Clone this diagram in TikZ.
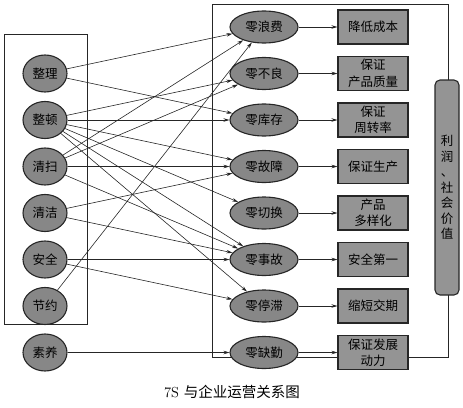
\documentclass[tikz,border=0pt]{standalone}
\usepackage{fontspec}
\newfontfamily\cjk{Noto Sans CJK SC}
\usetikzlibrary{arrows.meta,shapes.geometric}
\begin{document}
\begin{tikzpicture}[x=1pt,y=-1pt,
  lnode/.style={ellipse, draw=black!85, line width=1.1pt, fill=black!47, minimum width=44pt, minimum height=37pt, inner sep=0pt, font=\cjk\fontsize{12.5}{14}\selectfont},
  mnode/.style={ellipse, draw=black!85, line width=1.1pt, fill=black!47, minimum width=68pt, minimum height=32pt, inner sep=0pt, font=\cjk\fontsize{12.5}{14}\selectfont},
  rbox/.style={rectangle, draw=black!85, line width=1.1pt, fill=black!42, minimum width=70pt, minimum height=34pt, inner sep=0pt, align=center, font=\cjk\fontsize{12.5}{16.5}\selectfont},
  tallbox/.style={rectangle, rounded corners=5pt, draw=black!85, line width=1.1pt, fill=black!42, minimum width=24pt, minimum height=215pt, inner sep=0pt, align=center, font=\cjk\fontsize{12.5}{15.5}\selectfont},
  arr/.style={draw=black!85, line width=0.6pt, -{Stealth[length=6pt,width=3.5pt]}},
  framed/.style={draw=black!85, line width=1pt}
]
\useasboundingbox (0,0) rectangle (463,407);
% frames
\draw[framed] (212,4) rectangle (448,357);
\draw[framed] (4,34) rectangle (87,324);
% left nodes
\node[lnode] (l1) at (45,73.5) {整理};
\node[lnode] (l2) at (45,120) {整顿};
\node[lnode] (l3) at (45,166.5) {清扫};
\node[lnode] (l4) at (45,213) {清洁};
\node[lnode] (l5) at (45,259.5) {安全};
\node[lnode] (l6) at (45,306) {节约};
\node[lnode] (l7) at (45,352.5) {素养};
% middle nodes
\node[mnode] (m1) at (264,27) {零浪费};
\node[mnode] (m2) at (264,73.5) {零不良};
\node[mnode] (m3) at (264,120) {零库存};
\node[mnode] (m4) at (264,166.5) {零故障};
\node[mnode] (m5) at (264,213) {零切换};
\node[mnode] (m6) at (264,259.5) {零事故};
\node[mnode] (m7) at (264,306) {零停滞};
\node[mnode] (m8) at (264,352.5) {零缺勤};
% right boxes
\node[rbox] (r1) at (373,27) {降低成本};
\node[rbox] (r2) at (373,73.5) {保证\\产品质量};
\node[rbox] (r3) at (373,120) {保证\\周转率};
\node[rbox] (r4) at (373,166.5) {保证生产};
\node[rbox] (r5) at (373,213) {产品\\多样化};
\node[rbox] (r6) at (373,259.5) {安全第一};
\node[rbox] (r7) at (373,306) {缩短交期};
\node[rbox] (r8) at (373,352.5) {保证发展\\动力};
% tall box
\node[tallbox] (t) at (447,187.5) {利\\润\\、\\社\\会\\价\\值};
% connectors left -> middle
\draw[arr] (l1) -- (m1);
\draw[arr] (l1) -- (m3);
\draw[arr] (l2) -- (m2);
\draw[arr] (l2) -- (m3);
\draw[arr] (l2) -- (m4);
\draw[arr] (l2) -- (m5);
\draw[arr] (l2) -- (m6);
\draw[arr] (l2) -- (m7);
\draw[arr] (l3) -- (m1);
\draw[arr] (l3) -- (m2);
\draw[arr] (l3) -- (m4);
\draw[arr] (l3) -- (m6);
\draw[arr] (l4) -- (m4);
\draw[arr] (l4) -- (m6);
\draw[arr] (l5) -- (m6);
\draw[arr] (l5) -- (m7);
\draw[arr] (l6) -- (m1);
\draw[arr] (l7) -- (m8);
% middle -> right
\foreach \i in {1,...,8} {\draw[arr] (m\i) -- (r\i);}
% caption
\node (cap) at (232,392) {\fontsize{14.5}{16}\selectfont 7S\ \cjk 与企业运营关系图};
\end{tikzpicture}
\end{document}
